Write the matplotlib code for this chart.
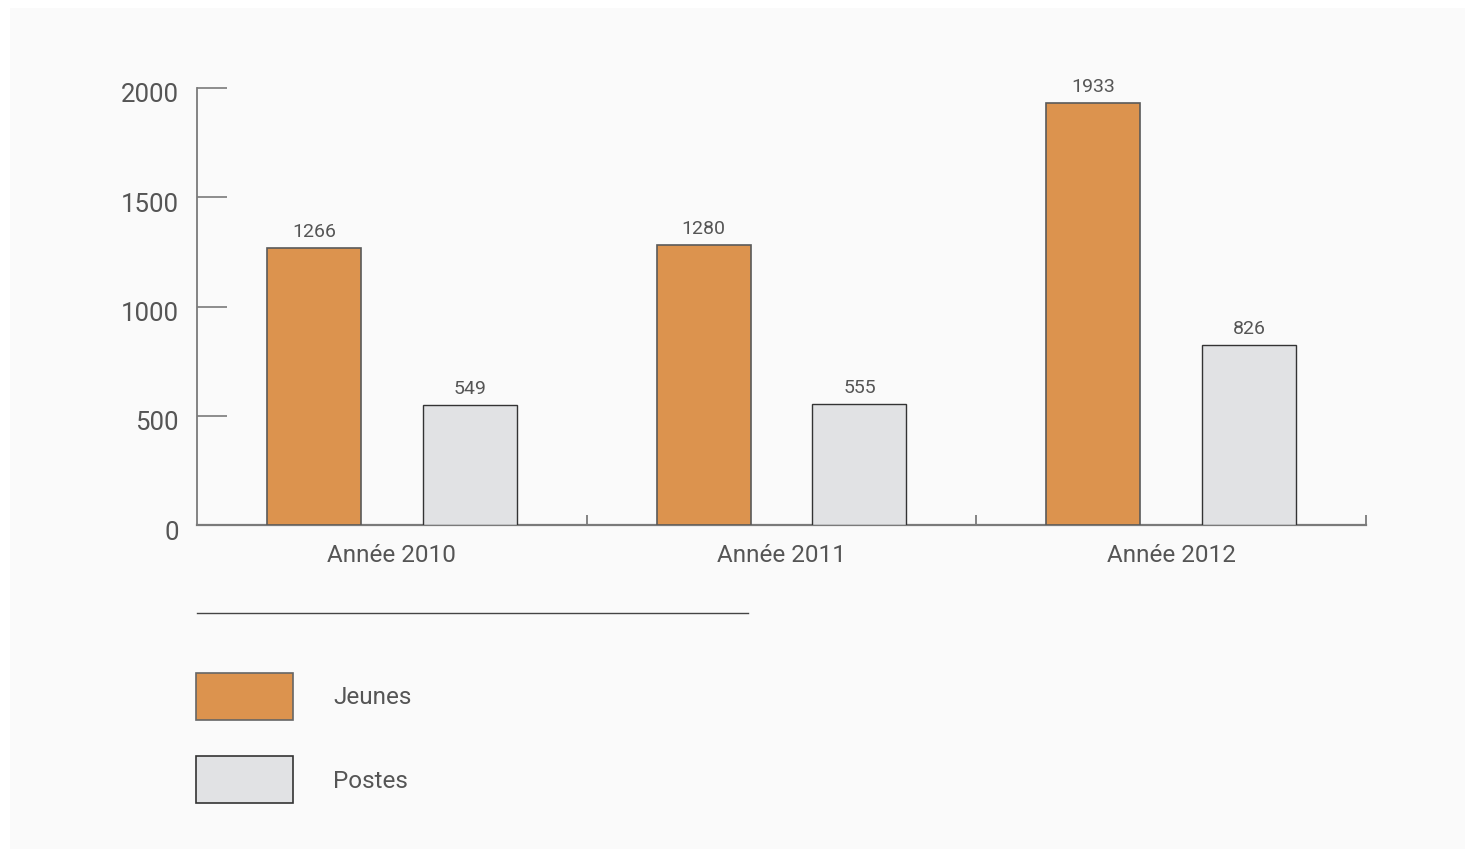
import matplotlib
matplotlib.use("Agg")
from matplotlib import pyplot as plt
from matplotlib.patches import Rectangle
from matplotlib.lines import Line2D
import matplotlib.transforms as mtransforms
import numpy as np

plt.rcParams['font.family'] = ['Roboto', 'DejaVu Sans']

years = ['Année 2010', 'Année 2011', 'Année 2012']
jeunes = [1266, 1280, 1933]
postes = [549, 555, 826]
series_names = ['Jeunes', 'Postes']

orange = '#DC934E'
grey = '#E1E2E4'
txt = '#555555'
axis_col = '#7a7a7a'

W, H = 1465, 849
fig = plt.figure(figsize=(W / 100, H / 100), dpi=100)
fig.patch.set_facecolor('white')
fig.patches.append(Rectangle((10 / W, 0), 1 - 10 / W, 1 - 8 / H, transform=fig.transFigure,
                             facecolor='#FAFAFA', edgecolor='none', zorder=-10))

def fx(px):
    return px / W

def fy(py):
    return 1 - py / H

ax = fig.add_axes([fx(197), fy(525), fx(1366) - fx(197), fy(88) - fy(525)])
ax.set_facecolor('none')

x = np.arange(len(years)) + 0.5
bw = 94 / 390
off = 78 / 390
b1 = ax.bar(x - off, jeunes, bw, color=orange, edgecolor='#5a5a5a', linewidth=1.2, zorder=3)
b2 = ax.bar(x + off, postes, bw, color=grey, edgecolor='#333333', linewidth=1.0, zorder=3)

for bars, vals in ((b1, jeunes), (b2, postes)):
    for r, v in zip(bars, vals):
        ax.annotate(str(v), (r.get_x() + r.get_width() / 2, v), xytext=(0, 5),
                    textcoords='offset points', ha='center', va='bottom',
                    fontsize=14, color=txt)

ax.set_xlim(0, 3)
ax.set_ylim(0, 2000)
for s in ('top', 'right'):
    ax.spines[s].set_visible(False)
ax.spines['left'].set_color(axis_col)
ax.spines['bottom'].set_color(axis_col)
ax.spines['left'].set_linewidth(1.3)
ax.spines['bottom'].set_linewidth(1.6)

ax.set_yticks([0, 500, 1000, 1500, 2000])
ax.set_yticklabels(['0', '500', '1000', '1500', '2000'])
ax.tick_params(axis='y', direction='in', length=21.6, width=1.2, color=axis_col,
               labelsize=18.5, labelcolor=txt, pad=13)
ax.yaxis.get_major_ticks()[0].tick1line.set_visible(False)
shift = mtransforms.ScaledTranslation(0, -5 / 100, fig.dpi_scale_trans)
for lab in ax.get_yticklabels():
    lab.set_transform(lab.get_transform() + shift)

# group separators on the x axis, labels centred under each group
ax.set_xticks([1, 2, 3])
ax.set_xticklabels([])
ax.set_xticks(x, minor=True)
ax.set_xticklabels(years, minor=True)
ax.tick_params(axis='x', which='major', direction='in', length=7, width=1.3, color=axis_col)
ax.tick_params(axis='x', which='minor', length=0, labelsize=17.5, labelcolor=txt, pad=14)

# legend block under the chart
fig.add_artist(Line2D([fx(197), fx(748)], [fy(613), fy(613)], color='#444444', linewidth=1.0))
leg_y = [696, 779]
for name, col, ec, yc in zip(series_names, [orange, grey], ['#666666', '#333333'], leg_y):
    fig.add_artist(Rectangle((fx(196), fy(yc + 23.5)), fx(97), (47 / H), transform=fig.transFigure,
                             facecolor=col, edgecolor=ec, linewidth=1.2))
    fig.text(fx(333), fy(yc + 2), name, ha='left', va='center', fontsize=17.5, color=txt)

fig.savefig('out.png', dpi=100, facecolor=fig.get_facecolor())
